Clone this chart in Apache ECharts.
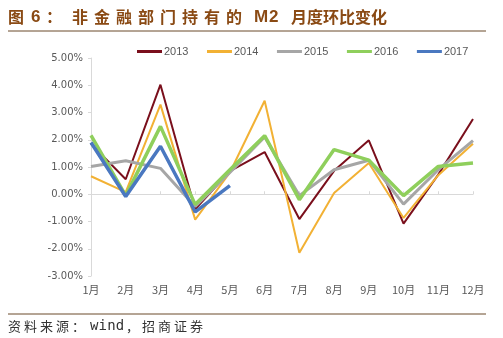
<!DOCTYPE html>
<html>
<head>
<meta charset="utf-8">
<script src="https://cdn.jsdelivr.net/npm/echarts@6/dist/echarts.min.js"></script>
<style>
  html, body { margin: 0; padding: 0; background: #fff; }
  #wrap { position: relative; width: 503px; height: 338px; overflow: hidden; }
  #chart { position: absolute; left: 0; top: 0; width: 503px; height: 338px; }
</style>
</head>
<body>
<div id="wrap"><div id="chart"></div></div>
<script>
// Month-on-month change of M2 held by the non-financial sector (%)
const months = ['1月','2月','3月','4月','5月','6月','7月','8月','9月','10月','11月','12月'];
const y2013 = [1.85, 0.55, 4.02, -0.55, 0.85, 1.55, -0.91, 0.86, 1.98, -1.08, 0.72, 2.76];
const y2014 = [0.66, 0.08, 3.29, -0.93, 0.80, 3.43, -2.15, 0.05, 1.15, -0.87, 0.70, 1.85];
const y2015 = [1.02, 1.23, 0.95, -0.45, 0.80, 2.10, -0.05, 0.90, 1.25, -0.36, 0.90, 1.97];
const y2016 = [2.16, -0.05, 2.49, -0.38, 0.90, 2.15, -0.20, 1.64, 1.25, -0.05, 1.02, 1.15];
const y2017 = [1.90, -0.08, 1.76, -0.65, 0.32];
const yTicks = [-3, -2, -1, 0, 1, 2, 3, 4, 5];

const seriesDefs = [
  { name: '2013', data: y2013, color: '#7a0f1c', width: 2 },
  { name: '2014', data: y2014, color: '#f2b134', width: 2 },
  { name: '2015', data: y2015, color: '#a6a6a6', width: 3 },
  { name: '2016', data: y2016, color: '#8fcf5c', width: 3.5 },
  { name: '2017', data: y2017, color: '#4a78c0', width: 3.5 }
];

// Lay out a string one glyph at a time with a fixed pitch (wide-spaced headings)
function spaced(str, x, y, pitch, font, fill) {
  return Array.from(str).map((ch, i) => ({
    type: 'text', x: x + i * pitch, y: y,
    style: { text: ch, font: font, fill: fill, textVerticalAlign: 'middle' }
  }));
}

const titleColor = '#8a4a14';
const titleFont = 'bold 16px "Noto Sans CJK SC", sans-serif';
const latinBold = 'bold 17px "Liberation Sans", sans-serif';
const srcFont = '13px "Noto Sans CJK SC", sans-serif';
const srcColor = '#333333';

const graphics = [].concat(
  spaced('图', 8, 17, 16, titleFont, titleColor),
  spaced('6', 31, 17, 10, latinBold, titleColor),
  spaced('：', 46, 17, 16, titleFont, titleColor),
  spaced('非金融部门持有的', 72, 17, 22, titleFont, titleColor),
  spaced('M2', 254, 17, 15, latinBold, titleColor),
  spaced('月度环比变化', 291, 17, 16, titleFont, titleColor),
  [
    { type: 'line', shape: { x1: 8, y1: 31, x2: 486, y2: 31 },
      style: { stroke: '#6b4a2a', lineWidth: 1 } },
    { type: 'line', shape: { x1: 8, y1: 314, x2: 486, y2: 314 },
      style: { stroke: '#6b4a2a', lineWidth: 1 } }
  ],
  spaced('资料来源：', 8, 326, 16, srcFont, srcColor),
  spaced('wind', 90, 326, 8.6, '14px "DejaVu Sans Mono", monospace', srcColor),
  spaced('，招商证券', 126, 326, 16, srcFont, srcColor)
);

const chart = echarts.init(document.getElementById('chart'), null, { renderer: 'canvas' });

const option = {
  backgroundColor: '#ffffff',
  animation: false,
  graphic: graphics,
  legend: {
    top: 41, left: 132,
    itemGap: 18.5,
    itemWidth: 25, itemHeight: 3,
    icon: 'rect',
    textStyle: { color: '#595959', fontSize: 11, fontFamily: 'Liberation Sans, sans-serif', padding: [0, 0, 0, -3] },
    data: seriesDefs.map(s => s.name)
  },
  grid: { left: 91, right: 30, top: 58, bottom: 62 },
  xAxis: [
    {
      type: 'category', data: months, boundaryGap: false,
      axisLine: { onZero: true, lineStyle: { color: '#d9d9d9', width: 1 } },
      axisTick: { show: true, inside: true, length: 3, lineStyle: { color: '#d9d9d9' } },
      axisLabel: { show: false }
    },
    {
      type: 'category', data: months, boundaryGap: false, position: 'bottom',
      axisLine: { show: false }, axisTick: { show: false },
      axisLabel: { color: '#595959', fontSize: 11, margin: 8, fontFamily: '"Noto Sans CJK SC", sans-serif' }
    }
  ],
  yAxis: {
    type: 'value', min: yTicks[0], max: yTicks[yTicks.length - 1], interval: 1,
    axisLine: { show: true, lineStyle: { color: '#d9d9d9' } },
    axisTick: { show: true, length: 3, lineStyle: { color: '#d9d9d9' } },
    splitLine: { show: false },
    axisLabel: { color: '#595959', fontSize: 10, margin: 8,
      fontFamily: 'DejaVu Sans, sans-serif',
      formatter: v => v.toFixed(2) + '%' }
  },
  series: seriesDefs.map(s => ({
    name: s.name, type: 'line', data: s.data, xAxisIndex: 0,
    symbol: 'none', smooth: false,
    color: s.color,
    lineStyle: { color: s.color, width: s.width }
  }))
};
chart.setOption(option);
</script>
</body>
</html>
